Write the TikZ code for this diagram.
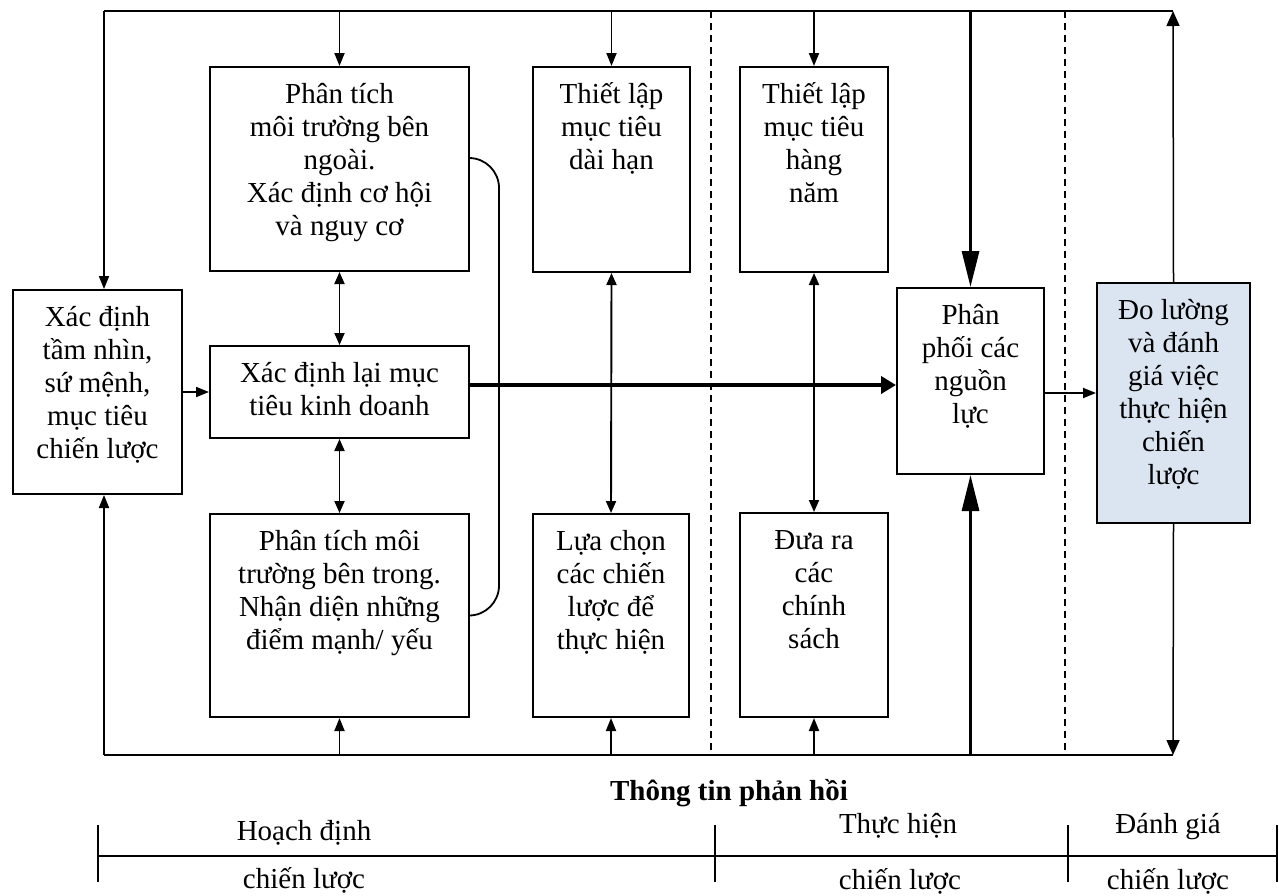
\documentclass[tikz,border=0pt]{standalone}
\usepackage{fontspec}
\setmainfont{Liberation Serif}
\usetikzlibrary{arrows.meta,calc}
\definecolor{evalfill}{RGB}{219,229,241}
\newcommand\bxstrut{\rule{0pt}{30pt}}
\tikzset{
  box/.style={draw, line width=2pt, inner sep=0pt, anchor=north west},
  boxtext/.style={anchor=north, align=center, inner sep=0pt},
  bus/.style={line width=1.7pt},
  link/.style={line width=1.8pt},
  divider/.style={line width=1.4pt, dash pattern=on 7pt off 5pt},
  arr/.style={line width=1.9pt, -{Triangle[length=13pt,width=10pt]}},
  arrl/.style={line width=1.5pt, -{Triangle[length=15pt,width=13pt]}},
  darr/.style={line width=1.9pt, {Triangle[length=12pt,width=10pt]}-{Triangle[length=12pt,width=10pt]}},
  bigarr/.style={line width=3pt, -{Triangle[length=36pt,width=17pt]}},
  harr/.style={line width=4pt, -{Triangle[length=15pt,width=17pt]}},
  tick/.style={line width=1.5pt},
  axis/.style={line width=2pt},
}
\begin{document}
\begin{tikzpicture}[x=1pt, y=-1pt, font=\fontsize{29}{33}\selectfont]
\useasboundingbox (0,0) rectangle (1279,895);

% ---- boxes ----
\node[box, minimum width=169pt, minimum height=204pt] (vis)    at (12,289) {};
\node[box, minimum width=259pt, minimum height=204pt] (pout)   at (209,66) {};
\node[box, minimum width=259pt, minimum height=92pt]  (redef)  at (209,345) {};
\node[box, minimum width=259pt, minimum height=203pt] (pin)    at (209,513) {};
\node[box, minimum width=157pt, minimum height=205pt] (ltgoal) at (532,66) {};
\node[box, minimum width=156pt, minimum height=203pt] (choose) at (532,513) {};
\node[box, minimum width=148pt, minimum height=205pt] (annual) at (739,66) {};
\node[box, minimum width=148pt, minimum height=204pt] (policy) at (739,512) {};
\node[box, minimum width=147pt, minimum height=186pt] (alloc)  at (896,287) {};
\node[box, fill=evalfill, minimum width=153pt, minimum height=240pt] (eval) at (1096,282) {};

% ---- box texts ----
\node[boxtext] (vis-t)    at ([yshift=-7pt]vis.north)    {\bxstrut Xác định\\tầm nhìn,\\sứ mệnh,\\mục tiêu\\chiến lược};
\node[boxtext] (pout-t)   at ([yshift=-7pt]pout.north)   {\bxstrut Phân tích\\môi trường bên\\ngoài.\\Xác định cơ hội\\và nguy cơ};
\node[boxtext] (redef-t)  at ([yshift=-7pt]redef.north)  {\bxstrut Xác định lại mục\\tiêu kinh doanh};
\node[boxtext] (pin-t)    at ([yshift=-7pt]pin.north)    {\bxstrut Phân tích môi\\trường bên trong.\\Nhận diện những\\điểm mạnh/ yếu};
\node[boxtext] (ltgoal-t) at ([yshift=-7pt]ltgoal.north) {\bxstrut Thiết lập\\mục tiêu\\dài hạn};
\node[boxtext] (choose-t) at ([yshift=-7pt]choose.north) {\bxstrut Lựa chọn\\các chiến\\lược để\\thực hiện};
\node[boxtext] (annual-t) at ([yshift=-7pt]annual.north) {\bxstrut Thiết lập\\mục tiêu\\hàng\\năm};
\node[boxtext] (policy-t) at ([yshift=-7pt]policy.north) {\bxstrut Đưa ra\\các\\chính\\sách};
\node[boxtext] (alloc-t)  at ([yshift=-7pt]alloc.north)  {\bxstrut Phân\\phối các\\nguồn\\lực};
\node[boxtext] (eval-t)   at ([yshift=-7pt]eval.north)   {\bxstrut Đo lường\\và đánh\\giá việc\\thực hiện\\chiến\\lược};

% ---- feedback loop: top and bottom buses ----
\coordinate (tl) at (104,11);
\coordinate (tr) at (1173,11);
\coordinate (bl) at (104,755);
\coordinate (br) at (1173,755);
\draw[bus] (tl) -- (tr);
\draw[axis] (bl) -- (br);

% stage dividers
\coordinate (d1t) at (711,11);  \coordinate (d1b) at (711,755);
\coordinate (d2t) at (1065,11); \coordinate (d2b) at (1065,755);
\draw[divider] (d1t) -- (d1b);
\draw[divider] (d2t) -- (d2b);

% left column
\draw[arr] (tl) -- (tl |- vis.north);
\draw[arr] (bl) -- (bl |- vis.south);
\draw[arr] (vis.east) -- (vis.east -| redef.west);

% arrows down from the top bus
\draw[arr] (pout.north |- tl) -- (pout.north);
\draw[arr] (ltgoal.north |- tl) -- (ltgoal.north);
\draw[arr] (annual.north |- tl) -- (annual.north);
\draw[bigarr] (alloc.north |- tl) -- (alloc.north);

% arrows up from the bottom bus
\draw[arr] (pin.south |- bl) -- (pin.south);
\draw[arr] (choose.south |- bl) -- (choose.south);
\draw[arr] (policy.south |- bl) -- (policy.south);
\draw[bigarr] (alloc.south |- bl) -- (alloc.south);

% two-way links
\draw[darr] (pout.south) -- (redef.north);
\draw[darr] (redef.south) -- (pin.north);
\draw[darr] (ltgoal.south) -- (choose.north);
\draw[darr] (annual.south) -- (policy.north);

% bracket joining the external and internal analyses
\coordinate (cs) at ([yshift=11pt]pout.east);
\coordinate (bend) at (499,0);
\draw[link, rounded corners=30pt] (cs) -- (cs -| bend) -- (bend |- pin.east) -- (pin.east);

% main flow
\coordinate (hs) at ([yshift=7pt]redef.east);
\draw[harr] (hs) -- (hs -| alloc.west);
\coordinate (ae) at ([yshift=-12pt]alloc.east);
\draw[arr] (ae) -- (ae -| eval.west);

% evaluation feeds back to both buses
\draw[arrl] (eval.north) -- (tr);
\draw[arrl] (eval.south) -- (br);

% caption
\node[font=\fontsize{29}{33}\selectfont\bfseries, anchor=base] (fb) at (729,800) {Thông tin phản hồi};

% ---- stage scale ----
\coordinate (t0) at (98,856);
\coordinate (t1) at (715,856);
\coordinate (t2) at (1068,856);
\coordinate (t3) at (1277,856);
\draw[axis] (t0) -- (t3);
\foreach \t in {t0,t1,t2,t3}
  \draw[tick] ([yshift=31pt]\t) -- ([yshift=-26pt]\t);

\node[anchor=base] (s1a) at (304,840) {Hoạch định};
\node[anchor=base] (s1b) at (304,888) {chiến lược};
\node[anchor=base] (s2a) at (898,833) {Thực hiện};
\node[anchor=base] (s2b) at (900,889) {chiến lược};
\node[anchor=base] (s3a) at (1168,833) {Đánh giá};
\node[anchor=base] (s3b) at (1168,889) {chiến lược};
\end{tikzpicture}
\end{document}
